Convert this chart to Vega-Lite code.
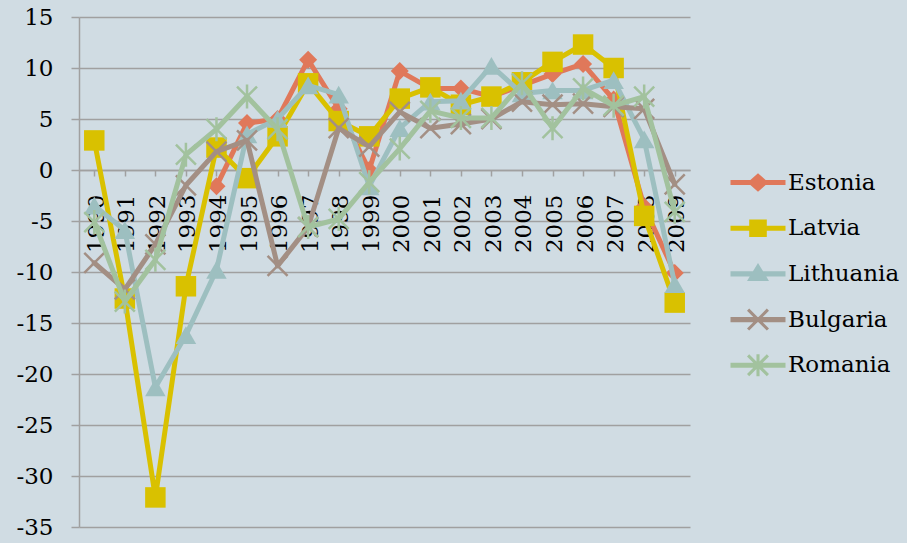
{
"$schema": "https://vega.github.io/schema/vega-lite/v6.json",
"width": 611, "height": 510,
"autosize": {"type": "none"},
"padding": {"left": 79, "top": 17, "right": 217, "bottom": 16},
"background": "#D0DCE3",
"config": {"view": {"stroke": null}, "font": "DejaVu Serif", "axisX": {"labelAngle": 270}},
"data": {"values": [
{"country":"Estonia","year":"1994","growth":-1.6},{"country":"Estonia","year":"1995","growth":4.6},{"country":"Estonia","year":"1996","growth":5.0},{"country":"Estonia","year":"1997","growth":10.8},{"country":"Estonia","year":"1998","growth":6.0},{"country":"Estonia","year":"1999","growth":0.0},{"country":"Estonia","year":"2000","growth":9.7},{"country":"Estonia","year":"2001","growth":8.0},{"country":"Estonia","year":"2002","growth":8.0},{"country":"Estonia","year":"2003","growth":7.2},{"country":"Estonia","year":"2004","growth":8.3},{"country":"Estonia","year":"2005","growth":9.4},{"country":"Estonia","year":"2006","growth":10.4},{"country":"Estonia","year":"2007","growth":6.9},{"country":"Estonia","year":"2008","growth":-3.6},{"country":"Estonia","year":"2009","growth":-10.1},
{"country":"Latvia","year":"1990","growth":2.9},{"country":"Latvia","year":"1991","growth":-12.6},{"country":"Latvia","year":"1992","growth":-32.1},{"country":"Latvia","year":"1993","growth":-11.4},{"country":"Latvia","year":"1994","growth":2.2},{"country":"Latvia","year":"1995","growth":-0.8},{"country":"Latvia","year":"1996","growth":3.3},{"country":"Latvia","year":"1997","growth":8.5},{"country":"Latvia","year":"1998","growth":4.8},{"country":"Latvia","year":"1999","growth":3.3},{"country":"Latvia","year":"2000","growth":7.0},{"country":"Latvia","year":"2001","growth":8.1},{"country":"Latvia","year":"2002","growth":6.4},{"country":"Latvia","year":"2003","growth":7.2},{"country":"Latvia","year":"2004","growth":8.6},{"country":"Latvia","year":"2005","growth":10.6},{"country":"Latvia","year":"2006","growth":12.3},{"country":"Latvia","year":"2007","growth":10.0},{"country":"Latvia","year":"2008","growth":-4.5},{"country":"Latvia","year":"2009","growth":-13.0},
{"country":"Lithuania","year":"1990","growth":-3.5},{"country":"Lithuania","year":"1991","growth":-5.9},{"country":"Lithuania","year":"1992","growth":-21.3},{"country":"Lithuania","year":"1993","growth":-16.2},{"country":"Lithuania","year":"1994","growth":-9.8},{"country":"Lithuania","year":"1995","growth":3.5},{"country":"Lithuania","year":"1996","growth":5.0},{"country":"Lithuania","year":"1997","growth":8.3},{"country":"Lithuania","year":"1998","growth":7.4},{"country":"Lithuania","year":"1999","growth":-1.6},{"country":"Lithuania","year":"2000","growth":4.1},{"country":"Lithuania","year":"2001","growth":6.7},{"country":"Lithuania","year":"2002","growth":6.8},{"country":"Lithuania","year":"2003","growth":10.2},{"country":"Lithuania","year":"2004","growth":7.5},{"country":"Lithuania","year":"2005","growth":7.8},{"country":"Lithuania","year":"2006","growth":7.8},{"country":"Lithuania","year":"2007","growth":8.8},{"country":"Lithuania","year":"2008","growth":3.0},{"country":"Lithuania","year":"2009","growth":-11.2},
{"country":"Bulgaria","year":"1990","growth":-9.1},{"country":"Bulgaria","year":"1991","growth":-11.7},{"country":"Bulgaria","year":"1992","growth":-7.3},{"country":"Bulgaria","year":"1993","growth":-1.5},{"country":"Bulgaria","year":"1994","growth":1.8},{"country":"Bulgaria","year":"1995","growth":2.9},{"country":"Bulgaria","year":"1996","growth":-9.4},{"country":"Bulgaria","year":"1997","growth":-5.6},{"country":"Bulgaria","year":"1998","growth":4.1},{"country":"Bulgaria","year":"1999","growth":2.3},{"country":"Bulgaria","year":"2000","growth":5.7},{"country":"Bulgaria","year":"2001","growth":4.1},{"country":"Bulgaria","year":"2002","growth":4.5},{"country":"Bulgaria","year":"2003","growth":5.0},{"country":"Bulgaria","year":"2004","growth":6.7},{"country":"Bulgaria","year":"2005","growth":6.4},{"country":"Bulgaria","year":"2006","growth":6.5},{"country":"Bulgaria","year":"2007","growth":6.2},{"country":"Bulgaria","year":"2008","growth":6.0},{"country":"Bulgaria","year":"2009","growth":-1.4},
{"country":"Romania","year":"1990","growth":-5.1},{"country":"Romania","year":"1991","growth":-12.9},{"country":"Romania","year":"1992","growth":-8.8},{"country":"Romania","year":"1993","growth":1.5},{"country":"Romania","year":"1994","growth":4.0},{"country":"Romania","year":"1995","growth":7.2},{"country":"Romania","year":"1996","growth":4.0},{"country":"Romania","year":"1997","growth":-5.6},{"country":"Romania","year":"1998","growth":-4.8},{"country":"Romania","year":"1999","growth":-1.2},{"country":"Romania","year":"2000","growth":2.1},{"country":"Romania","year":"2001","growth":5.8},{"country":"Romania","year":"2002","growth":5.1},{"country":"Romania","year":"2003","growth":5.1},{"country":"Romania","year":"2004","growth":8.5},{"country":"Romania","year":"2005","growth":4.1},{"country":"Romania","year":"2006","growth":8.0},{"country":"Romania","year":"2007","growth":6.3},{"country":"Romania","year":"2008","growth":7.2},{"country":"Romania","year":"2009","growth":-4.1}
]},
"encoding": {
  "x": {"field": "year", "type": "ordinal",
    "scale": {"type": "point", "padding": 0.5},
    "axis": {"title": null, "labelAngle": 270, "labelAlign": "right", "labelBaseline": "middle", "offset": -357,
      "domainColor": "#A0A0A0", "domainWidth": 1.5, "tickColor": "#A0A0A0", "tickWidth": 1.5, "tickSize": 6,
      "labelPadding": 18, "labelOffset": 2, "labelFont": "DejaVu Serif", "labelFontSize": 23, "labelColor": "#000000", "grid": false,
      "encoding": {"labels": {"update": {"angle": {"value": 270}, "align": {"value": "right"}, "baseline": {"value": "middle"}}}}}},
  "y": {"field": "growth", "type": "quantitative",
    "scale": {"domain": [-35, 15], "nice": false, "zero": false},
    "axis": {"title": null, "values": [-35, -30, -25, -20, -15, -10, -5, 0, 5, 10, 15],
      "labelExpr": "replace(datum.label, '−', '-')",
      "tickSize": 8, "tickColor": "#A0A0A0", "tickWidth": 1.5, "domainColor": "#A0A0A0", "domainWidth": 1.5,
      "grid": true, "gridColor": "#A0A0A0", "gridWidth": 1.5, "gridOpacity": 1,
      "labelPadding": 18, "labelFont": "DejaVu Serif", "labelFontSize": 23, "labelColor": "#000000"}}
},
"layer": [
  {"transform": [{"filter": "datum.country === 'Estonia'"}],
   "mark": {"type": "line", "strokeWidth": 5, "strokeJoin": "round", "strokeCap": "round",
     "point": {"shape": "diamond", "size": 324, "filled": true, "opacity": 1}},
   "encoding": {"color": {"field": "country", "type": "nominal", "scale": {"domain": ["Estonia", "Latvia", "Lithuania", "Bulgaria", "Romania"], "range": ["#E0785A", "#D9C100", "#9DBFC0", "#A38F84", "#A2C29E"]}, "legend": null}}},
  {"transform": [{"filter": "datum.country === 'Latvia'"}],
   "mark": {"type": "line", "strokeWidth": 5, "strokeJoin": "round", "strokeCap": "round",
     "point": {"shape": "square", "size": 420, "filled": true, "opacity": 1}},
   "encoding": {"color": {"field": "country", "type": "nominal", "legend": null}}},
  {"transform": [{"filter": "datum.country === 'Lithuania'"}],
   "mark": {"type": "line", "strokeWidth": 5, "strokeJoin": "round", "strokeCap": "round",
     "point": {"shape": "triangle-up", "size": 420, "filled": true, "opacity": 1}},
   "encoding": {"color": {"field": "country", "type": "nominal", "legend": null}}},
  {"transform": [{"filter": "datum.country === 'Bulgaria'"}],
   "mark": {"type": "line", "strokeWidth": 5, "strokeJoin": "round", "strokeCap": "round",
     "point": {"shape": "M-1,-1L1,1M-1,1L1,-1", "size": 400, "filled": false, "strokeWidth": 2.5, "opacity": 1}},
   "encoding": {"color": {"field": "country", "type": "nominal", "legend": null}}},
  {"transform": [{"filter": "datum.country === 'Romania'"}],
   "mark": {"type": "line", "strokeWidth": 5, "strokeJoin": "round", "strokeCap": "round",
     "point": {"shape": "M-1,-1L1,1M-1,1L1,-1M0,-1.2L0,1.2", "size": 400, "filled": false, "strokeWidth": 2.5, "opacity": 1}},
   "encoding": {"color": {"field": "country", "type": "nominal", "legend": null}}},
  {"mark": {"type": "point", "filled": true, "opacity": 0},
   "encoding": {
     "color": {"field": "country", "type": "nominal",
       "legend": {"title": null, "orient": "none", "legendX": 651, "legendY": 154, "padding": 0, "symbolSize": 484, "symbolStrokeWidth": 0, "symbolOpacity": 1,
         "labelFont": "DejaVu Serif", "labelFontSize": 23, "labelColor": "#000000", "labelOffset": 35, "rowPadding": 21.7}},
     "shape": {"field": "country", "type": "nominal",
       "scale": {"domain": ["Estonia", "Latvia", "Lithuania", "Bulgaria", "Romania"],
         "range": [
           "M-1,-0.23V0.23H4V-0.23Z M1.5,-0.85L0.55,0L1.5,0.85L2.45,0Z",
           "M-1,-0.23V0.23H4V-0.23Z M0.7,-0.8V0.8H2.3V-0.8Z",
           "M-1,-0.23V0.23H4V-0.23Z M1.5,-1L0.5,0.65L2.5,0.65Z",
           "M-1,-0.23V0.23H4V-0.23Z M0.501,-0.801L2.301,0.999L2.499,0.801L0.699,-0.999Z M0.699,0.999L2.499,-0.801L2.301,-0.999L0.501,0.801Z",
           "M-1,-0.23V0.23H4V-0.23Z M0.501,-0.801L2.301,0.999L2.499,0.801L0.699,-0.999Z M0.699,0.999L2.499,-0.801L2.301,-0.999L0.501,0.801Z M1.36,-1V1H1.64V-1Z"
         ]},
       "legend": {"title": null, "orient": "none", "legendX": 651, "legendY": 154, "padding": 0, "symbolSize": 484, "symbolStrokeWidth": 0, "symbolOpacity": 1,
         "labelFont": "DejaVu Serif", "labelFontSize": 23, "labelColor": "#000000", "labelOffset": 35, "rowPadding": 21.7}}
   }}
],
"resolve": {"legend": {"color": "independent", "shape": "independent"}}
}
